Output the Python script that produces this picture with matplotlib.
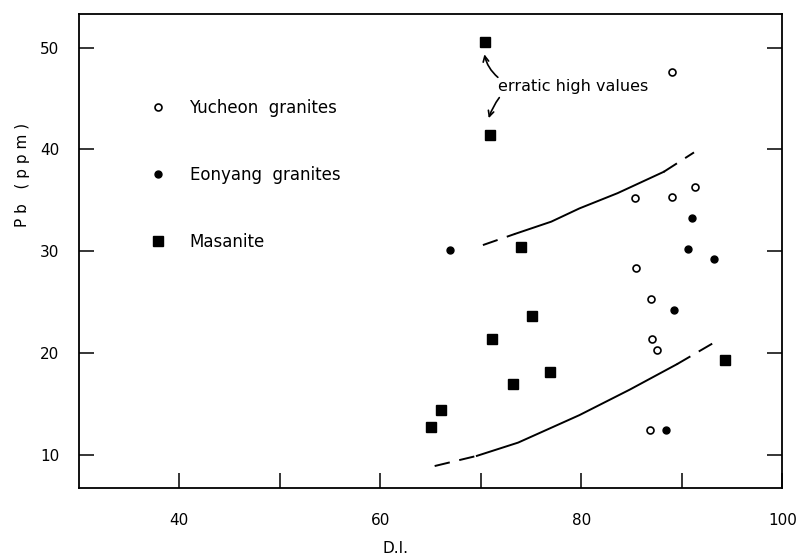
import matplotlib.pyplot as plt
import numpy as np

# data
yucheon_di = [89.0, 85.3, 89.0, 91.3, 85.4, 86.9, 87.0, 87.5, 86.8]
yucheon_pb = [47.6, 35.2, 35.3, 36.3, 28.3, 25.3, 21.4, 20.3, 12.4]

eonyang_di = [66.9, 91.0, 90.6, 93.2, 89.2, 88.4]
eonyang_pb = [30.1, 33.3, 30.2, 29.2, 24.2, 12.4]

masanite_di = [70.4, 70.9, 74.0, 75.1, 71.1, 76.9, 73.2, 66.0, 65.0, 94.3]
masanite_pb = [50.5, 41.4, 30.4, 23.6, 21.4, 18.1, 17.0, 14.4, 12.7, 19.3]

# envelope curves (solid middle, dashed ends)
upper_di = [70.2, 73.4, 77.0, 79.8, 83.6, 88.2, 91.2]
upper_pb = [30.6, 31.7, 32.9, 34.2, 35.7, 37.8, 39.7]
lower_di = [65.4, 69.6, 73.7, 79.8, 84.8, 89.5, 93.5]
lower_pb = [8.9, 9.9, 11.2, 13.9, 16.4, 18.9, 21.2]

x_ticks = [40, 50, 60, 70, 80, 90, 100]
x_labels = ['40', '', '60', '', '80', '', '100']
y_ticks = [10, 20, 30, 40, 50]

plt.rcParams['font.family'] = 'DejaVu Sans'
fig = plt.figure(figsize=(7.96, 5.57), dpi=100)
ax = fig.add_axes([0.099, 0.124, 0.884, 0.851])

lw = 1.4
for xs, ys in [(upper_di, upper_pb), (lower_di, lower_pb)]:
    ax.plot(xs[:2], ys[:2], color='k', lw=lw, dashes=(8, 5))
    ax.plot(xs[1:-1], ys[1:-1], color='k', lw=lw)
    ax.plot(xs[-2:], ys[-2:], color='k', lw=lw, dashes=(8, 5))

ax.plot(yucheon_di, yucheon_pb, 'o', ms=5, mfc='white', mec='k', mew=1.2,
        ls='none', label='Yucheon  granites')
ax.plot(eonyang_di, eonyang_pb, 'o', ms=5, color='k', ls='none',
        label='Eonyang  granites')
ax.plot(masanite_di, masanite_pb, 's', ms=7.5, color='k', ls='none',
        label='Masanite')

leg = ax.legend(loc='upper left', bbox_to_anchor=(0.091, 0.835), frameon=False,
                fontsize=12, labelspacing=2.95, handlelength=1.0,
                handletextpad=1.4, borderaxespad=0)

ax.text(71.7, 46.2, 'erratic high values', fontsize=11.5, va='center', ha='left')
ax.annotate('', xy=(70.3, 49.6), xytext=(71.9, 46.9),
            arrowprops=dict(arrowstyle='->', lw=1.2, color='k',
                            connectionstyle='arc3,rad=-0.2'))
ax.annotate('', xy=(70.7, 42.8), xytext=(72.0, 45.3),
            arrowprops=dict(arrowstyle='->', lw=1.2, color='k',
                            connectionstyle='arc3,rad=0.1'))

ax.set_xlim(30, 100)
ax.set_ylim(6.75, 53.3)
ax.set_xticks(x_ticks)
ax.set_xticklabels(x_labels)
ax.set_yticks(y_ticks)
ax.tick_params(direction='in', length=11, width=1.1, labelsize=11,
               right=True, top=False)
ax.tick_params(axis='x', pad=18)
ax.tick_params(axis='y', pad=14)
for s in ax.spines.values():
    s.set_linewidth(1.3)

ax.set_xlabel('D.I.', fontsize=11)
ax.xaxis.set_label_coords(0.45, -0.112)
ax.set_ylabel('P b   ( p p m )', fontsize=11)
ax.yaxis.set_label_coords(-0.07, 0.66)

fig.savefig('out.png', dpi=100)
